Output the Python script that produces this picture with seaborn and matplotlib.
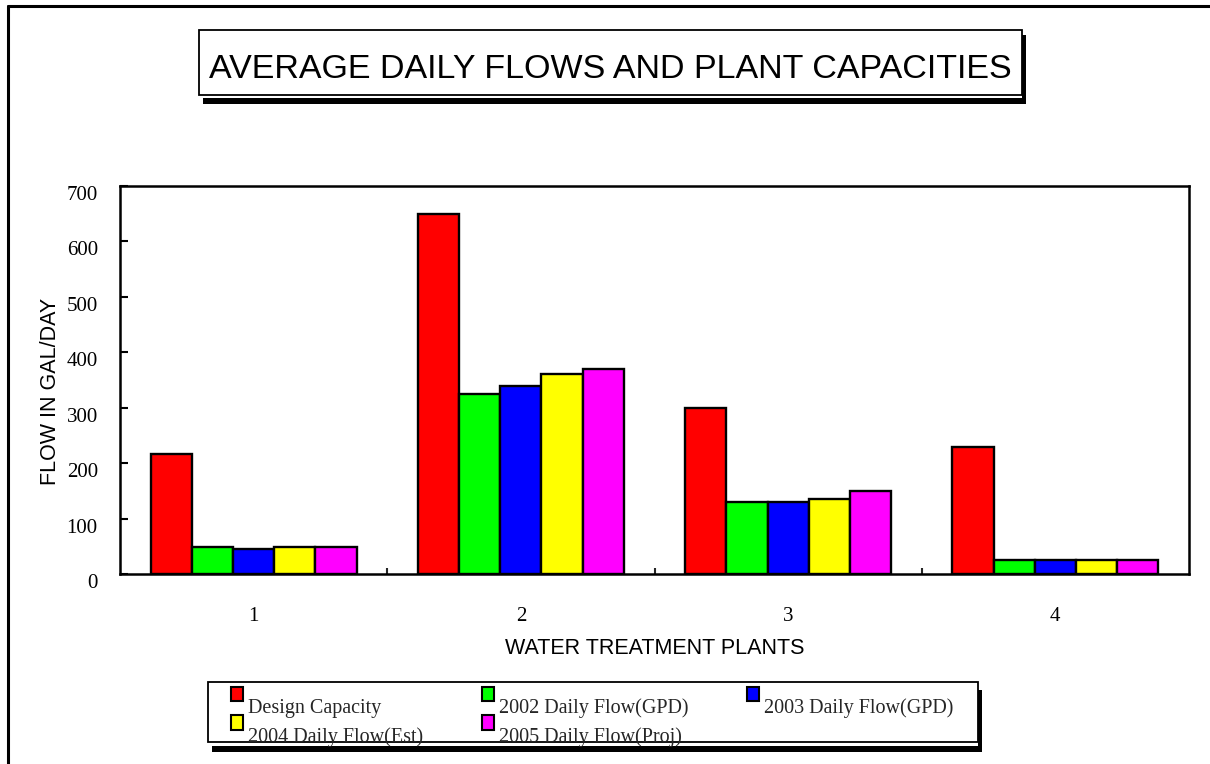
import numpy as np
import pandas as pd
import seaborn as sns
import matplotlib.pyplot as plt
from matplotlib.patches import Rectangle, Patch
from matplotlib.lines import Line2D
from matplotlib.ticker import FixedLocator
from matplotlib.transforms import ScaledTranslation

# ---------------- data ----------------
plants = ["1", "2", "3", "4"]
series = ["Design Capacity", "2002 Daily Flow(GPD)", "2003 Daily Flow(GPD)",
          "2004 Daily Flow(Est)", "2005 Daily Flow(Proj)"]
design_capacity = [217, 650, 300, 230]
flow_2002 = [48, 324, 129, 25]
flow_2003 = [46, 339, 129, 25]
flow_2004 = [48, 360, 135, 25]
flow_2005 = [48, 369, 150, 25]
bar_colors = ["#ff0000", "#00ff00", "#0000ff", "#ffff00", "#ff00ff"]
y_ticks = [0, 100, 200, 300, 400, 500, 600, 700]

values = [design_capacity, flow_2002, flow_2003, flow_2004, flow_2005]
df = pd.DataFrame({
    "plant": np.tile(plants, len(series)),
    "series": np.repeat(series, len(plants)),
    "flow": np.concatenate(values),
})

# ---------------- style ----------------
sns.set_theme(style="white")
plt.rcParams["font.family"] = ["Liberation Serif", "DejaVu Serif"]
SANS = ["Liberation Sans", "DejaVu Sans"]

W, H = 1210, 764
fig = plt.figure(figsize=(W / 100, H / 100), dpi=100)
ax = fig.add_axes([120 / W, 1 - 574 / H, (1189 - 120) / W, (574 - 186) / H])

sns.barplot(data=df, x="plant", y="flow", hue="series", palette=bar_colors,
            width=0.77, edgecolor="black", linewidth=1.7, saturation=1,
            legend=False, ax=ax)

ax.set_xlim(-0.5, 3.5)
ax.set_ylim(0, 700)
ax.set_yticks(y_ticks)
ax.set_yticklabels([str(v) for v in y_ticks])
ax.xaxis.set_minor_locator(FixedLocator([0.5, 1.5, 2.5]))
for s in ax.spines.values():
    s.set_visible(True)
    s.set_color("black")
    s.set_linewidth(1.8)

ax.tick_params(axis="y", direction="in", length=6, width=1.5, left=True,
               labelsize=15, pad=16, colors="black")
ax.tick_params(axis="x", which="major", direction="in", length=4, width=1.5,
               bottom=True, labelsize=15, pad=24, colors="black")
ax.tick_params(axis="x", which="minor", direction="in", length=4, width=1.5,
               bottom=True)
plt.setp(ax.get_yticklabels(), va="top")

ax.set_xlabel("WATER TREATMENT PLANTS", fontsize=15.5, family=SANS,
              color="black", va="top")
ax.xaxis.set_label_coords(0.5, -0.165)
ax.set_ylabel("FLOW IN GAL/DAY", fontsize=15.5, family=SANS, color="black")
ax.yaxis.set_label_coords(-0.055, 0.47)

# ---------------- outer frame ----------------
fig.add_artist(Line2D([8 / W, 8 / W], [0, 1 - 6 / H], color="black", lw=2.2,
                      transform=fig.transFigure))
fig.add_artist(Line2D([8 / W, 1], [1 - 6 / H, 1 - 6 / H], color="black", lw=2.2,
                      transform=fig.transFigure))


def px_rect(x0, y0, x1, y1, **kw):
    return Rectangle((x0 / W, 1 - y1 / H), (x1 - x0) / W, (y1 - y0) / H,
                     transform=fig.transFigure, **kw)


# ---------------- title box ----------------
fig.add_artist(px_rect(203, 98, 1026, 104, fc="black", ec="none"))
fig.add_artist(px_rect(1022, 35, 1026, 104, fc="black", ec="none"))
fig.add_artist(px_rect(199, 30, 1022, 95, fc="white", ec="black", lw=1.3))
fig.text(610.5 / W, 1 - 70 / H, "AVERAGE DAILY FLOWS AND PLANT CAPACITIES",
         fontsize=24.5, family=SANS, ha="center", va="center", color="black")

# ---------------- legend box ----------------
fig.add_artist(px_rect(212, 746, 982, 752, fc="black", ec="none"))
fig.add_artist(px_rect(978, 690, 982, 752, fc="black", ec="none"))
fig.add_artist(px_rect(208, 682, 978, 742, fc="white", ec="black", lw=1.3))

handles = [Patch(facecolor=c, edgecolor="black", linewidth=1.5, label=s)
           for c, s in zip(bar_colors, series)]
order = [0, 3, 1, 4, 2]
leg = fig.legend([handles[i] for i in order], [series[i] for i in order],
                 ncol=3, loc="upper left",
                 bbox_to_anchor=(231 / W, 1 - 686 / H, (953 - 231) / W, 0),
                 mode="expand", fontsize=14.5, handlelength=0.6,
                 handleheight=0.72, handletextpad=0.25, labelspacing=0.45,
                 borderpad=0, borderaxespad=0, frameon=False)
shift = ScaledTranslation(0, -12 / 100, fig.dpi_scale_trans)
for t in leg.get_texts():
    t.set_transform(t.get_transform() + shift)

fig.savefig("out.png", dpi=100)
